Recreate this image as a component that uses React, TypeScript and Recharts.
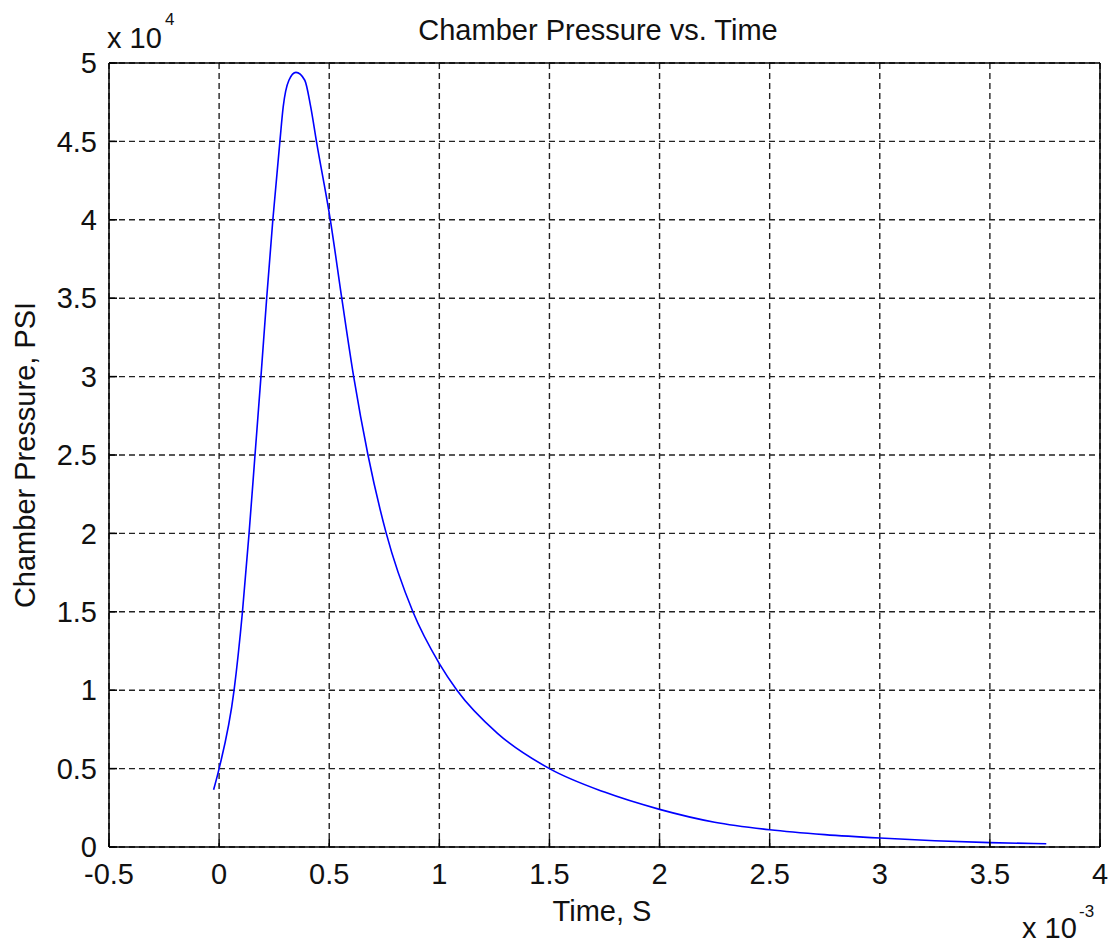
import { LineChart, Line, XAxis, YAxis, CartesianGrid } from 'recharts'

// time in ms (axis shows x 10^-3 s), pressure in PSI
const times = [
  -0.025, 0, 0.068, 0.106, 0.136, 0.163, 0.19, 0.216, 0.244, 0.276, 0.291, 0.317,
  0.349, 0.389, 0.416, 0.442, 0.505, 0.557, 0.611, 0.676, 0.759, 0.88, 1.0, 1.08,
  1.264, 1.5, 1.75, 2.0, 2.25, 2.5, 2.75, 3.0, 3.25, 3.5, 3.756,
]
const pressures = [
  3650, 5000, 10000, 15000, 20000, 25000, 30000, 35000, 40000, 45000, 47200, 48900,
  49400, 48900, 47200, 45000, 40000, 35000, 30000, 25000, 20000, 15000, 11700, 10000,
  7250, 5000, 3500, 2400, 1580, 1100, 790, 570, 400, 280, 210,
]
const xTicks = [-0.5, 0, 0.5, 1, 1.5, 2, 2.5, 3, 3.5, 4]
const yTicks = [0, 5000, 10000, 15000, 20000, 25000, 30000, 35000, 40000, 45000, 50000]

const data = times.map((t, i) => ({ t, p: pressures[i] }))

const font = '"Liberation Sans", Arial, sans-serif'
const tickStyle = { fontSize: 29, fill: '#111', fontFamily: font }
const axisLine = { stroke: '#000', strokeWidth: 1.5 }

export default function App() {
  return (
    <div style={{ position: 'absolute', left: 0, top: 0, width: 1111, height: 944, background: '#fff' }}>
      <LineChart
        width={1111}
        height={944}
        data={data}
        margin={{ top: 53, right: 1, left: 49, bottom: 57 }}
      >
        <CartesianGrid stroke="#222" strokeWidth={1.4} strokeDasharray="6 4" />
        <XAxis
          dataKey="t"
          type="number"
          domain={[-0.5, 4]}
          ticks={xTicks}
          allowDataOverflow
          height={40}
          tickSize={-8}
          tickMargin={24}
          tick={tickStyle}
          axisLine={axisLine}
          tickLine={axisLine}
          tickFormatter={(v) => String(v)}
        />
        <XAxis
          xAxisId="top"
          orientation="top"
          type="number"
          domain={[-0.5, 4]}
          ticks={xTicks}
          allowDataOverflow
          height={10}
          tickSize={-8}
          tick={false}
          axisLine={axisLine}
          tickLine={axisLine}
        />
        <YAxis
          type="number"
          domain={[0, 50000]}
          ticks={yTicks}
          allowDataOverflow
          width={60}
          tickSize={-8}
          tickMargin={20}
          tick={tickStyle}
          axisLine={axisLine}
          tickLine={axisLine}
          tickFormatter={(v) => String(v / 10000)}
        />
        <YAxis
          yAxisId="right"
          orientation="right"
          type="number"
          domain={[0, 50000]}
          ticks={yTicks}
          allowDataOverflow
          width={10}
          tickSize={-8}
          tick={false}
          axisLine={axisLine}
          tickLine={axisLine}
        />
        <Line
          type="monotone"
          dataKey="p"
          stroke="#0000ff"
          strokeWidth={1.6}
          dot={false}
          isAnimationActive={false}
        />
      </LineChart>
      <svg
        width={1111}
        height={944}
        style={{ position: 'absolute', left: 0, top: 0, pointerEvents: 'none' }}
        fontFamily={font}
        fill="#111"
      >
        <text x={598} y={40} fontSize={29} textAnchor="middle">Chamber Pressure vs. Time</text>
        <text x={602} y={921} fontSize={29} textAnchor="middle">Time, S</text>
        <text transform="translate(35,455) rotate(-90)" fontSize={29} textAnchor="middle">
          Chamber Pressure, PSI
        </text>
        <text x={107} y={48} fontSize={29}>x 10</text>
        <text x={165} y={25} fontSize={17}>4</text>
        <text x={1022} y={938} fontSize={29}>x 10</text>
        <text x={1079} y={917} fontSize={17}>-3</text>
      </svg>
    </div>
  )
}
